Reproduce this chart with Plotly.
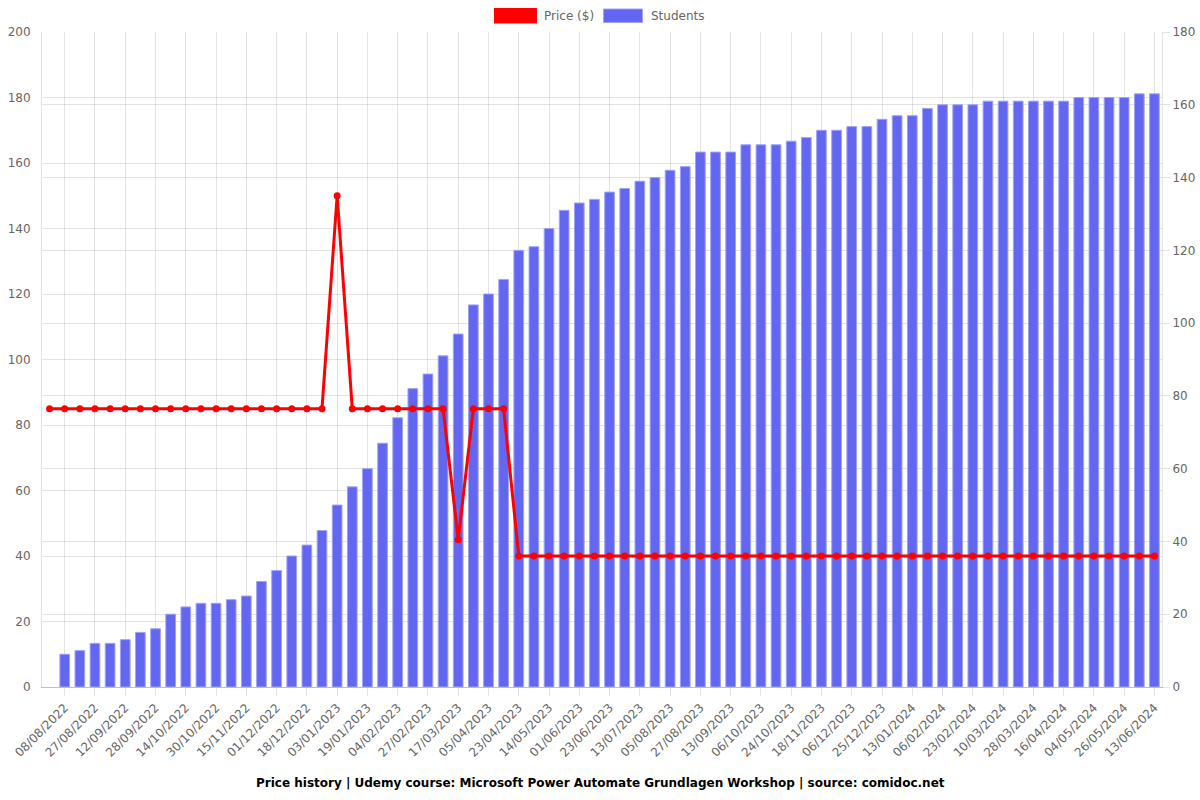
import plotly.graph_objects as go

# ---------------- data ----------------
dates = [
    "30/07/2022", "08/08/2022", "17/08/2022", "27/08/2022", "04/09/2022", "12/09/2022",
    "20/09/2022", "28/09/2022", "06/10/2022", "14/10/2022", "22/10/2022", "30/10/2022",
    "07/11/2022", "15/11/2022", "23/11/2022", "01/12/2022", "09/12/2022", "18/12/2022",
    "26/12/2022", "03/01/2023", "11/01/2023", "19/01/2023", "27/01/2023", "04/02/2023",
    "15/02/2023", "27/02/2023", "08/03/2023", "17/03/2023", "26/03/2023", "05/04/2023",
    "14/04/2023", "23/04/2023", "03/05/2023", "14/05/2023", "23/05/2023", "01/06/2023",
    "12/06/2023", "23/06/2023", "03/07/2023", "13/07/2023", "24/07/2023", "05/08/2023",
    "16/08/2023", "27/08/2023", "05/09/2023", "13/09/2023", "24/09/2023", "06/10/2023",
    "15/10/2023", "24/10/2023", "05/11/2023", "18/11/2023", "27/11/2023", "06/12/2023",
    "15/12/2023", "25/12/2023", "04/01/2024", "13/01/2024", "25/01/2024", "06/02/2024",
    "14/02/2024", "23/02/2024", "02/03/2024", "10/03/2024", "19/03/2024", "28/03/2024",
    "07/04/2024", "16/04/2024", "25/04/2024", "04/05/2024", "15/05/2024", "26/05/2024",
    "04/06/2024", "13/06/2024",
]

price = (
    [85] * 19 + [150] + [85] * 7 + [45] + [85] * 3 + [40] * 43
)

students = [
    None, 9, 10, 12, 12, 13, 15, 16, 20, 22,
    23, 23, 24, 25, 29, 32, 36, 39, 43, 50,
    55, 60, 67, 74, 82, 86, 91, 97, 105, 108,
    112, 120, 121, 126, 131, 133, 134, 136, 137, 139,
    140, 142, 143, 147, 147, 147, 149, 149, 149, 150,
    151, 153, 153, 154, 154, 156, 157, 157, 159, 160,
    160, 160, 161, 161, 161, 161, 161, 161, 162, 162,
    162, 162, 163, 163,
]

tick_labels = dates[1::2]
price_ticks = [0, 20, 40, 60, 80, 100, 120, 140, 160, 180, 200]
student_ticks = [0, 20, 40, 60, 80, 100, 120, 140, 160, 180]

title_text = "Price history | Udemy course: Microsoft Power Automate Grundlagen Workshop | source: comidoc.net"

RED = "#ff0000"
BLUE = "#6366f1"
GRID = "rgba(0,0,0,0.11)"
FONT = "DejaVu Sans"

# ---------------- layout geometry ----------------
W, H = 1200, 800
L, R, T, B = 42, 38, 32, 113
PW, PH = W - L - R, H - T - B


def px(x):
    return (x - L) / PW


def py(y):
    return (H - B - y) / PH


fig = go.Figure()

fig.add_trace(go.Bar(
    x=dates, y=students, name="Students", yaxis="y",
    marker=dict(color=BLUE, line=dict(color="rgba(160,163,245,1)", width=1)),
    showlegend=False,
))

fig.add_trace(go.Scatter(
    x=dates, y=price, name="Price ($)", yaxis="y2", mode="lines+markers",
    line=dict(color=RED, width=3),
    marker=dict(color=RED, size=7),
    showlegend=False,
))

fig.update_layout(
    width=W, height=H,
    margin=dict(l=L, r=R, t=T, b=B, autoexpand=False),
    plot_bgcolor="white", paper_bgcolor="white",
    font=dict(family=FONT, size=12, color="#666"),
    bargap=0.36,
    xaxis=dict(
        type="category", categoryorder="array", categoryarray=dates,
        tickmode="array", tickvals=tick_labels, ticktext=tick_labels,
        tickangle=-45, ticks="outside", ticklen=8, tickcolor=GRID,
        showgrid=True, gridcolor=GRID,
        showline=True, linecolor="rgba(0,0,0,0.25)",
        tickfont=dict(size=12, color="#666"),
        range=[-0.5, len(dates) - 0.5],
        zeroline=False, automargin=False,
    ),
    yaxis=dict(
        side="right", range=[0, 180], tickvals=student_ticks,
        showgrid=True, gridcolor=GRID, zeroline=False,
        ticks="outside", ticklen=7, tickcolor=GRID,
        showline=True, linecolor=GRID,
        tickfont=dict(size=12, color="#666"), automargin=False,
    ),
    yaxis2=dict(
        side="left", overlaying="y", range=[0, 200], tickvals=price_ticks,
        showgrid=True, gridcolor=GRID, zeroline=False,
        ticks="", ticklabelstandoff=8,
        showline=True, linecolor=GRID,
        tickfont=dict(size=12, color="#666"), automargin=False,
    ),
    showlegend=False,
)

# custom legend (boxes like the reference)
fig.add_shape(type="rect", xref="paper", yref="paper",
              x0=px(495.5), x1=px(535.5), y0=py(22), y1=py(9.5),
              fillcolor=RED, line=dict(color=RED, width=3))
fig.add_annotation(xref="paper", yref="paper", x=px(542), y=py(16),
                   text="Price ($)", showarrow=False, xanchor="left", yanchor="middle",
                   font=dict(family=FONT, size=12, color="#666"))
fig.add_shape(type="rect", xref="paper", yref="paper",
              x0=px(603.5), x1=px(642.5), y0=py(22.5), y1=py(9),
              fillcolor=BLUE, line=dict(color="rgba(160,163,245,1)", width=1))
fig.add_annotation(xref="paper", yref="paper", x=px(649), y=py(16),
                   text="Students", showarrow=False, xanchor="left", yanchor="middle",
                   font=dict(family=FONT, size=12, color="#666"))

# bottom title
fig.add_annotation(xref="paper", yref="paper", x=px(600), y=py(783),
                   text="<b>" + title_text + "</b>", showarrow=False,
                   xanchor="center", yanchor="middle",
                   font=dict(family=FONT, size=12, color="#000"))

fig.write_html("out.html")
